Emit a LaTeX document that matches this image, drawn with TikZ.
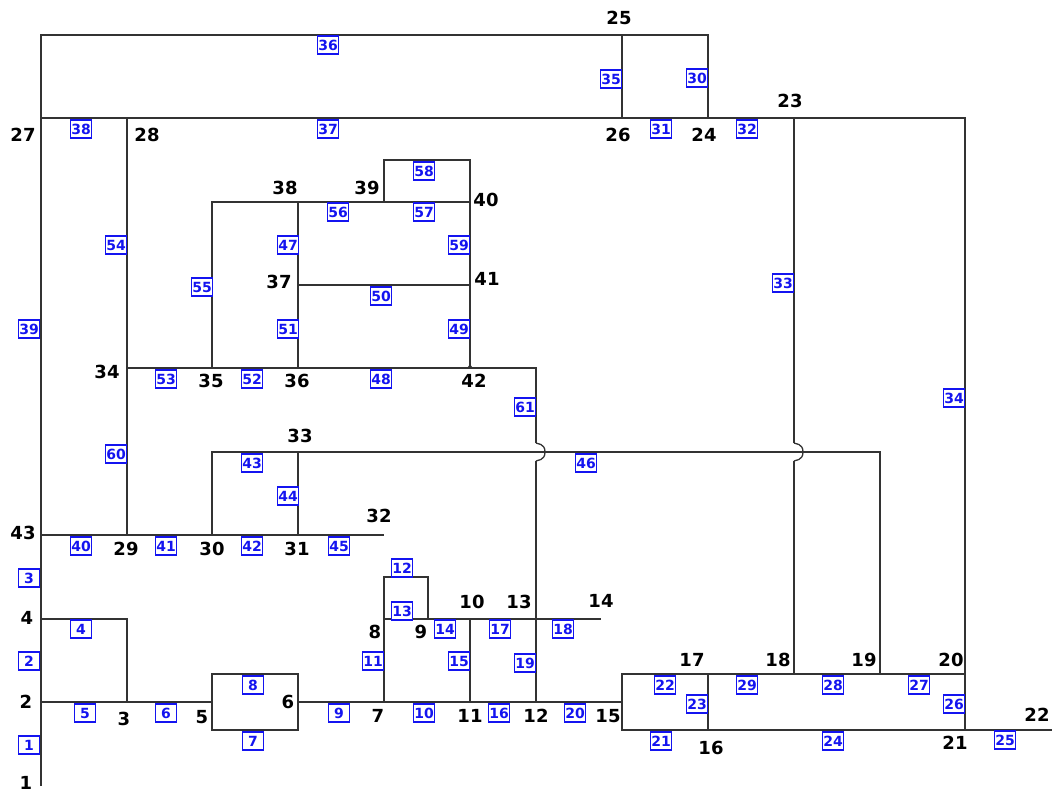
\documentclass[tikz,border=0pt]{standalone}
\usepackage{fontspec}
\setmainfont{DejaVu Sans}
\definecolor{wire}{HTML}{333333}
\definecolor{tagblue}{HTML}{1414F0}
\tikzset{
  wireline/.style={draw=wire,line width=1.3pt,line join=miter},
  vlabel/.style={inner sep=0pt,text=black,font=\bfseries\fontsize{18}{19}\selectfont},
  etag/.style={draw=tagblue,line width=1.2pt,fill=white,text=tagblue,inner sep=0pt,
    minimum width=21pt,minimum height=18pt,font=\bfseries\fontsize{14}{15}\selectfont},
}
\begin{document}
\begin{tikzpicture}[x=1pt,y=-1pt]
\useasboundingbox (0,0) rectangle (1053,793);
% vertices
\foreach \n/\x/\y in {1/41/786,2/41/702,3/127/702,4/41/619,5/212/702,6/298/702,7/384/702,8/384/619,9/428/619,10/470/619,11/470/702,12/536/702,13/536/619,14/601/619,15/622/702,16/708/730,17/708/674,18/794/674,19/880/674,20/965/674,21/965/730,22/1052/730,23/794/118,24/708/118,25/622/35,26/622/118,27/41/118,28/127/118,29/127/535,30/212/535,31/298/535,32/384/535,33/298/452,34/127/368,35/212/368,36/298/368,37/298/285,38/298/202,39/384/202,40/470/202,41/470/285,42/470/368,43/41/535}
  \coordinate (v\n) at (\x,\y);
% bends
\foreach \n/\x/\y in {a/127/619,b/212/730,c/298/730,d/212/674,e/298/674,f/384/577,g/428/577,h/622/730,i/622/674,j/708/35,k/965/118,l/41/35,m/212/452,n/880/452,o/212/202,p/384/160,q/470/160,r/536/368,s/536/443,t/536/461,u/794/443,w/794/461}
  \coordinate (b\n) at (\x,\y);
% straight edges
\foreach \p/\q in {1/2,2/4,4/43,2/3,3/5,6/7,7/11,7/8,8/9,9/10,10/11,11/12,10/13,13/14,13/12,12/15,16/17,16/21,21/22,21/20,19/20,18/19,17/18,26/24,24/23,25/26,27/26,27/43,43/29,29/30,30/31,31/32,33/31,36/38,35/42,34/35,41/42,37/41,28/34,34/29,38/40,40/41}
  \draw[wireline] (v\p) -- (v\q);
% polylines
\draw[wireline] (v4) -- (ba) -- (v3);
\draw[wireline] (v5) -- (bb) -- (bc) -- (v6);
\draw[wireline] (v5) -- (bd) -- (be) -- (v6);
\draw[wireline] (v8) -- (bf) -- (bg) -- (v9);
\draw[wireline] (v15) -- (bh) -- (v16);
\draw[wireline] (v15) -- (bi) -- (v17);
\draw[wireline] (v24) -- (bj) -- (v25);
\draw[wireline] (v23) -- (bk) -- (v20);
\draw[wireline] (v25) -- (bl) -- (v27);
\draw[wireline] (v30) -- (bm) -- (v33);
\draw[wireline] (v33) -- (bn) -- (v19);
\draw[wireline] (v35) -- (bo) -- (v38);
\draw[wireline] (v39) -- (bp) -- (bq) -- (v40);
% line bridges: straight runs and arcs drawn apart
\draw[wireline] (v42) -- (br) -- (bs);
\draw[wireline] (bt) -- (v12);
\draw[wireline] (bs) .. controls (537,444) and (545,443) .. (545,452) .. controls (545,461) and (537,460) .. (bt);
\draw[wireline] (v23) -- (bu);
\draw[wireline] (bw) -- (v18);
\draw[wireline] (bu) .. controls (795,444) and (803,443) .. (803,452) .. controls (803,461) and (795,460) .. (bw);
\fill[wire] (v42) ++(0,-1.5) circle (1.8pt);
% edge tags
\foreach \n/\x/\y in {1/29/745,2/29/661,3/29/578,4/81/629,5/85/713,6/166/713,7/253/741,8/253/685,9/339/713,10/424/713,11/373/661,12/402/568,13/402/611,14/445/629,15/459/661,16/499/713,17/500/629,18/563/629,19/525/663,20/575/713,21/661/741,22/665/685,23/697/704,24/833/741,25/1005/740,26/954/704,27/919/685,28/833/685,29/747/685,30/697/78,31/661/129,32/747/129,33/783/283,34/954/398,35/611/79,36/328/45,37/328/129,38/81/129,39/29/329,40/81/546,41/166/546,42/252/546,43/252/463,44/288/496,45/339/546,46/586/463,47/288/245,48/381/379,49/459/329,50/381/296,51/288/329,52/252/379,53/166/379,54/116/245,55/202/287,56/338/212,57/424/212,58/424/171,59/459/245,60/116/454,61/525/407}
  \node[etag] (e\n) at (\x,\y) {\n};
% vertex labels
\foreach \n/\x/\y in {1/26/783,2/26/702,3/124/719,4/27/618,5/202/717,6/288/702,7/378/716,8/375/632,9/421/632,10/472/602,11/470/716,12/536/716,13/519/602,14/601/601,15/608/716,16/711/748,17/692/660,18/778/660,19/864/660,20/951/660,21/955/743,22/1037/715,23/790/101,24/704/135,25/619/18,26/618/135,27/23/135,28/147/135,29/126/549,30/212/549,31/297/549,32/379/516,33/300/436,34/107/372,35/211/381,36/297/381,37/279/282,38/285/188,39/367/188,40/486/200,41/487/279,42/474/381,43/23/533}
  \node[vlabel] (t\n) at (\x,\y) {\n};
\end{tikzpicture}
\end{document}
